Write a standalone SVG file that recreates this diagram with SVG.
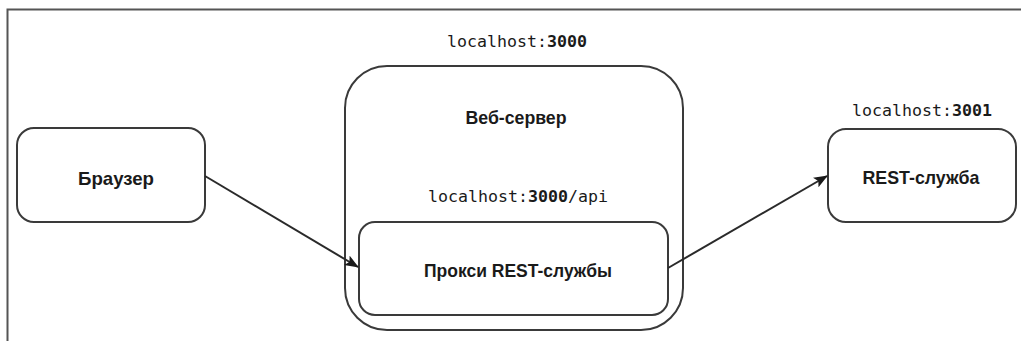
<svg xmlns="http://www.w3.org/2000/svg" width="1021" height="341" viewBox="0 0 1021 341">
<style>
.box{fill:#fff;stroke:#3a3a3a;stroke-width:2}
.lbl{font-family:"Liberation Sans",Arial,sans-serif;font-weight:bold;font-size:19px;fill:#1a1a1a;text-anchor:middle}
.mono{font-family:"DejaVu Sans Mono","Liberation Mono",monospace;font-size:16.6px;fill:#1a1a1a;text-anchor:middle}
.mono tspan.b{font-weight:bold}
.conn{stroke:#2a2a2a;stroke-width:2;fill:none}
</style>
<defs>
<marker id="arr" viewBox="0 0 14 11" refX="13" refY="5.5" markerWidth="14" markerHeight="11" markerUnits="userSpaceOnUse" orient="auto">
<path d="M0,0 L14,5.5 L0,11 L3,5.5 Z" fill="#1a1a1a"/>
</marker>
</defs>
<rect x="0" y="0" width="1021" height="341" fill="#fff"/>
<path d="M7.5,341 V9.5 H1021" fill="none" stroke="#555" stroke-width="2"/>
<text class="mono" x="517" y="47">localhost:<tspan class="b">3000</tspan></text>
<g id="webserver">
<rect class="box" x="345" y="66" width="338" height="264" rx="42" ry="42"/>
<text class="lbl" x="516" y="124" textLength="101" lengthAdjust="spacingAndGlyphs">Веб-сервер</text>
<text class="mono" x="518" y="202">localhost:<tspan class="b">3000</tspan>/api</text>
</g>
<g id="proxy">
<rect class="box" x="359" y="222" width="309" height="93" rx="16" ry="16"/>
<text class="lbl" x="518" y="277" textLength="188" lengthAdjust="spacingAndGlyphs">Прокси REST-службы</text>
</g>
<g id="browser">
<rect class="box" x="17" y="128" width="188" height="94" rx="17" ry="17"/>
<text class="lbl" x="116" y="185" textLength="76" lengthAdjust="spacingAndGlyphs">Браузер</text>
</g>
<g id="rest">
<text class="mono" x="922" y="116">localhost:<tspan class="b">3001</tspan></text>
<rect class="box" x="828" y="129" width="188" height="93" rx="18" ry="18"/>
<text class="lbl" x="921" y="184" textLength="117" lengthAdjust="spacingAndGlyphs">REST-служба</text>
</g>
<g id="connectors">
<line class="conn" x1="205" y1="176" x2="358" y2="267" marker-end="url(#arr)"/>
<line class="conn" x1="668" y1="268" x2="827" y2="176" marker-end="url(#arr)"/>
</g>
</svg>
